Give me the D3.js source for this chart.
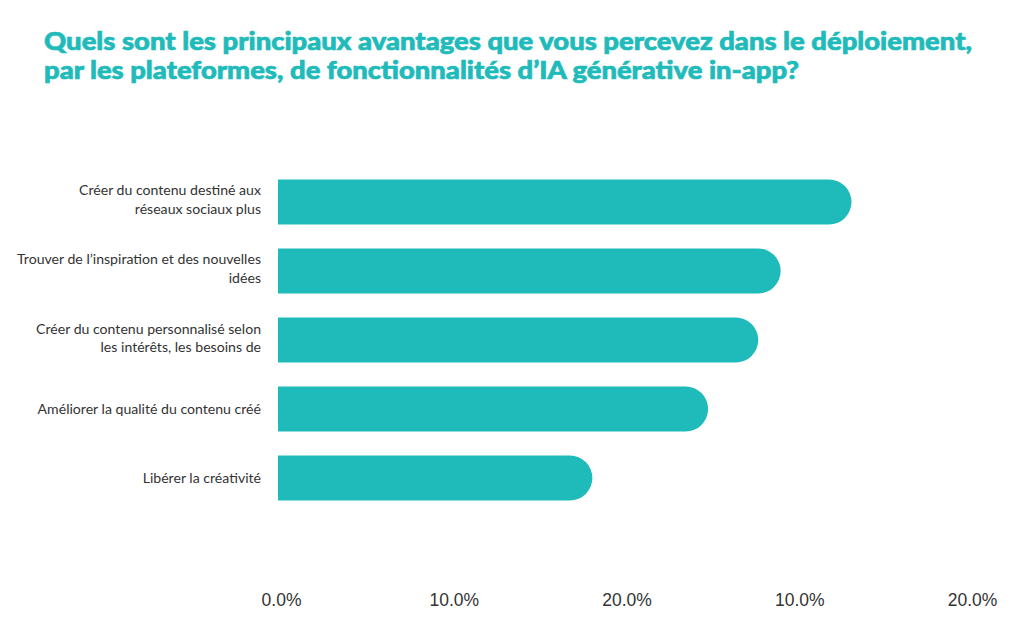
<!DOCTYPE html>
<html>
<head>
<meta charset="utf-8">
<script src="https://cdn.jsdelivr.net/npm/d3@7"></script>
<style>
  html, body { margin: 0; padding: 0; background: #ffffff; }
  svg { display: block; }
</style>
</head>
<body>
<svg id="chart" width="1024" height="619"></svg>
<script>
// ---- data ----
const titleLines = [
  "Quels sont les principaux avantages que vous percevez dans le déploiement,",
  "par les plateformes, de fonctionnalités d’IA générative in-app?"
];
const categories = [
  ["Créer du contenu destiné aux", "réseaux sociaux plus"],
  ["Trouver de l’inspiration et des nouvelles", "idées"],
  ["Créer du contenu personnalisé selon", "les intérêts, les besoins de"],
  ["Améliorer la qualité du contenu créé"],
  ["Libérer la créativité"]
];
const values = [33.2, 29.1, 27.8, 24.9, 18.2];
const tickValues = [0, 10, 20, 30, 40];
const tickLabels = ["0.0%", "10.0%", "20.0%", "10.0%", "20.0%"];

// ---- drawing ----
const teal = "#1fbbbb";
const svg = d3.select("#chart");

const x = d3.scaleLinear().domain([0, 40]).range([278, 969]);
const y = d3.scaleBand().domain(d3.range(categories.length))
  .range([179.5, 500.5]).paddingInner(0.348).paddingOuter(0);

// title
const titleWidths = [928, 755];
svg.append("g").selectAll("text").data(titleLines).join("text")
  .attr("x", 44)
  .attr("y", (d, i) => 50 + i * 28.5)
  .attr("textLength", (d, i) => titleWidths[i])
  .attr("lengthAdjust", "spacingAndGlyphs")
  .attr("font-family", "Lato, 'Open Sans', sans-serif")
  .attr("font-weight", 900)
  .attr("font-size", 24.5)
  .attr("fill", teal)
  .attr("stroke", teal)
  .attr("stroke-width", 0.7)
  .text(d => d);

// bars (rounded right end)
svg.append("g").selectAll("path").data(values).join("path")
  .attr("fill", teal)
  .attr("d", (v, i) => {
    const y0 = y(i), h = y.bandwidth(), r = h / 2;
    const x0 = x(0), x1 = x(v);
    return `M${x0},${y0}H${x1 - r}A${r},${r} 0 0 1 ${x1 - r},${y0 + h}H${x0}Z`;
  });

// category labels
const lab = svg.append("g")
  .attr("font-family", "Lato, 'Noto Sans', sans-serif")
  .attr("font-size", 14.1)
  .attr("fill", "#333333")
  .attr("text-anchor", "end");
categories.forEach((lines, i) => {
  const cy = y(i) + y.bandwidth() / 2;
  const t = lab.append("text").attr("x", 261);
  lines.forEach((l, j) => {
    const base = lines.length === 1 ? cy + 5 : cy - 6.5 + j * 18.5;
    t.append("tspan").attr("x", 261).attr("y", base).text(l);
  });
});

// x axis tick labels
const axis = d3.axisBottom(x).tickValues(tickValues)
  .tickFormat((d, i) => tickLabels[i]).tickSize(0).tickPadding(0);
const ax = svg.append("g").attr("transform", "translate(3,0)").call(axis);
ax.select(".domain").remove();
ax.selectAll("text")
  .attr("y", 606).attr("dy", null)
  .attr("font-family", "'Liberation Sans', Arial, sans-serif")
  .attr("font-size", 17.5)
  .attr("fill", "#333333");
</script>
</body>
</html>
